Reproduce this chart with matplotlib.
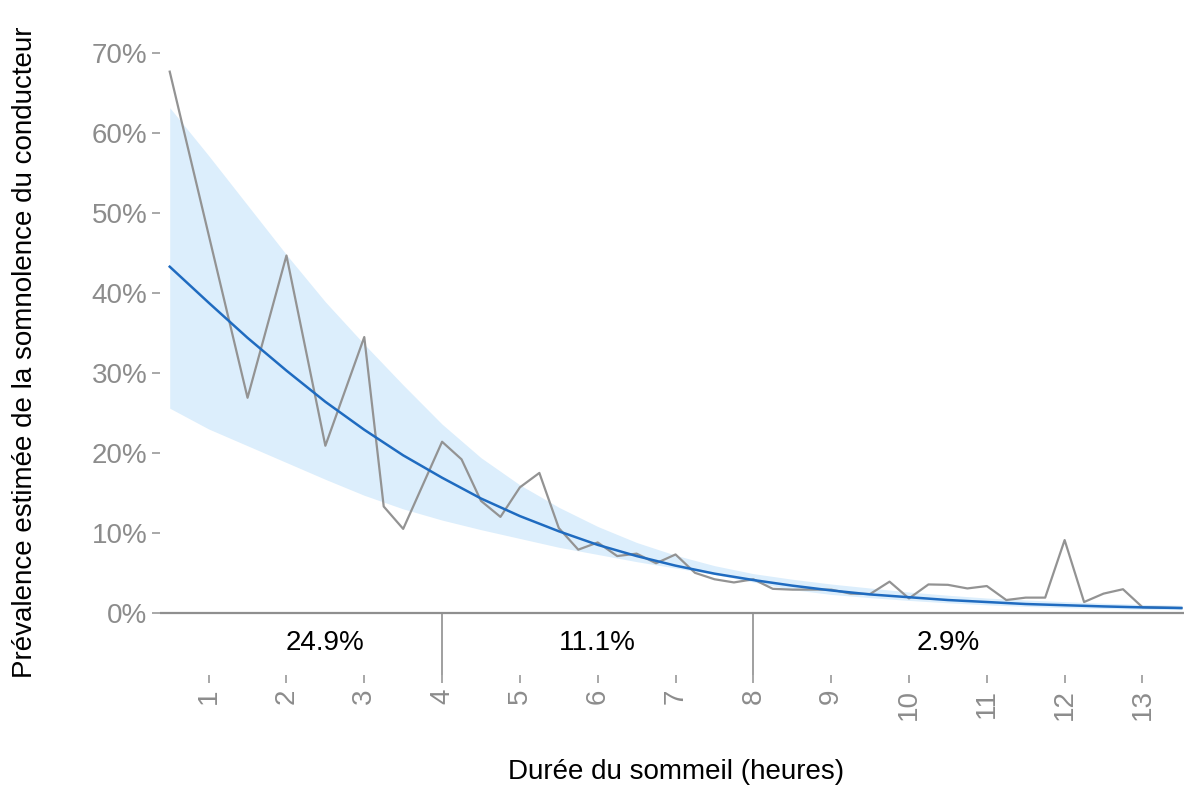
import numpy as np
import matplotlib
matplotlib.use("Agg")
import matplotlib.pyplot as plt

plt.rcParams["font.family"] = ["Liberation Sans", "DejaVu Sans"]

# observed prevalence (%) by sleep duration (hours)
obs_hours = [0.5, 1.5, 2.0, 2.5, 3.0, 3.25, 3.5, 4.0, 4.25, 4.5, 4.75, 5.0,
             5.25, 5.5, 5.75, 6.0, 6.25, 6.5, 6.75, 7.0, 7.25, 7.5, 7.75, 8.0,
             8.25, 8.5, 9.0, 9.25, 9.5, 9.75, 10.0, 10.25, 10.5, 10.75, 11.0,
             11.25, 11.5, 11.75, 12.0, 12.25, 12.5, 12.75, 13.0, 13.5]
obs_prev = [67.7, 26.9, 44.7, 20.9, 34.5, 13.3, 10.5, 21.4, 19.2, 14.0, 12.0, 15.7,
            17.5, 10.6, 7.9, 8.8, 7.1, 7.4, 6.2, 7.3, 5.0, 4.2, 3.8, 4.2,
            3.0, 2.9, 2.9, 2.4, 2.35, 3.9, 1.8, 3.55, 3.5, 3.05, 3.35,
            1.6, 1.9, 1.9, 9.1, 1.35, 2.4, 2.95, 0.7, 0.6]

# fitted curve and confidence band (%)
fit_hours = [0.5, 1.0, 1.5, 2.0, 2.5, 3.0, 3.5, 4.0, 4.5, 5.0, 5.5, 6.0, 6.5, 7.0,
             7.5, 8.0, 8.5, 9.0, 9.5, 10.0, 10.5, 11.0, 11.5, 12.0, 12.5, 13.0, 13.5]
fit_prev = [43.3, 38.8, 34.4, 30.3, 26.4, 22.9, 19.7, 16.9, 14.3, 12.1, 10.2, 8.5, 7.1, 5.9,
            4.9, 4.1, 3.4, 2.8, 2.3, 1.95, 1.6, 1.35, 1.1, 0.95, 0.8, 0.68, 0.6]
fit_upper = [63.2, 57.2, 51.0, 44.8, 38.9, 33.6, 28.5, 23.6, 19.4, 16.0, 13.2, 10.8, 8.8, 7.2,
             5.9, 4.9, 4.2, 3.6, 3.1, 2.6, 2.2, 1.85, 1.6, 1.4, 1.2, 1.05, 0.95]
fit_lower = [25.6, 23.0, 20.9, 18.8, 16.7, 14.7, 13.0, 11.6, 10.4, 9.3, 8.2, 7.3, 6.4, 5.6,
             4.8, 3.85, 2.9, 2.3, 1.9, 1.55, 1.25, 1.0, 0.8, 0.65, 0.55, 0.45, 0.4]

# mean prevalence per sleep-duration group
group_breaks = [4, 8]
group_centers = [2.5, 6.0, 10.5]
group_labels = ["24.9%", "11.1%", "2.9%"]

x_ticks = list(range(1, 14))
y_ticks = [0, 10, 20, 30, 40, 50, 60, 70]

grey = "#8c8c8c"

fig = plt.figure(figsize=(11.84, 7.87), dpi=100)
ax = fig.add_axes([160 / 1184, 1 - 675 / 787, 1 - 160 / 1184, (675 - 40) / 787])

ax.fill_between(fit_hours, fit_lower, fit_upper, color="#dceefc", lw=0)
ax.plot(obs_hours, obs_prev, color="#939393", lw=1.6)
ax.plot(fit_hours, fit_prev, color="#1f6bc0", lw=1.8)

ymin, ymax = -7.78, 71.66
ax.axhline(0, color="#8f8f8f", lw=1.6)
for b in group_breaks:
    ax.plot([b, b], [ymin, 0], color="#8f8f8f", lw=1.2)
for xc, lab in zip(group_centers, group_labels):
    ax.text(xc, -3.78, lab, ha="center", va="center", fontsize=20, color="black")

ax.set_xlim(0.375, 13.534)
ax.set_ylim(ymin, ymax)

for s in ax.spines.values():
    s.set_visible(False)

ax.set_xticks(x_ticks)
ax.set_xticklabels([str(v) for v in x_ticks], rotation=90)
ax.set_yticks(y_ticks)
ax.set_yticklabels([f"{v}%" for v in y_ticks])
ax.tick_params(axis="both", colors="#999999", labelcolor=grey, labelsize=20,
               length=6, width=1.2)
ax.tick_params(axis="x", pad=4)
ax.tick_params(axis="y", pad=3)

fig.text(676 / 1184, 1 - 772 / 787, "Durée du sommeil (heures)", ha="center",
         va="center", fontsize=20, color="black")
fig.text(25 / 1184, 1 - 352 / 787, "Prévalence estimée de la somnolence du conducteur",
         ha="center", va="center", rotation=90, fontsize=20, color="black")

fig.savefig("out.png", dpi=100)
